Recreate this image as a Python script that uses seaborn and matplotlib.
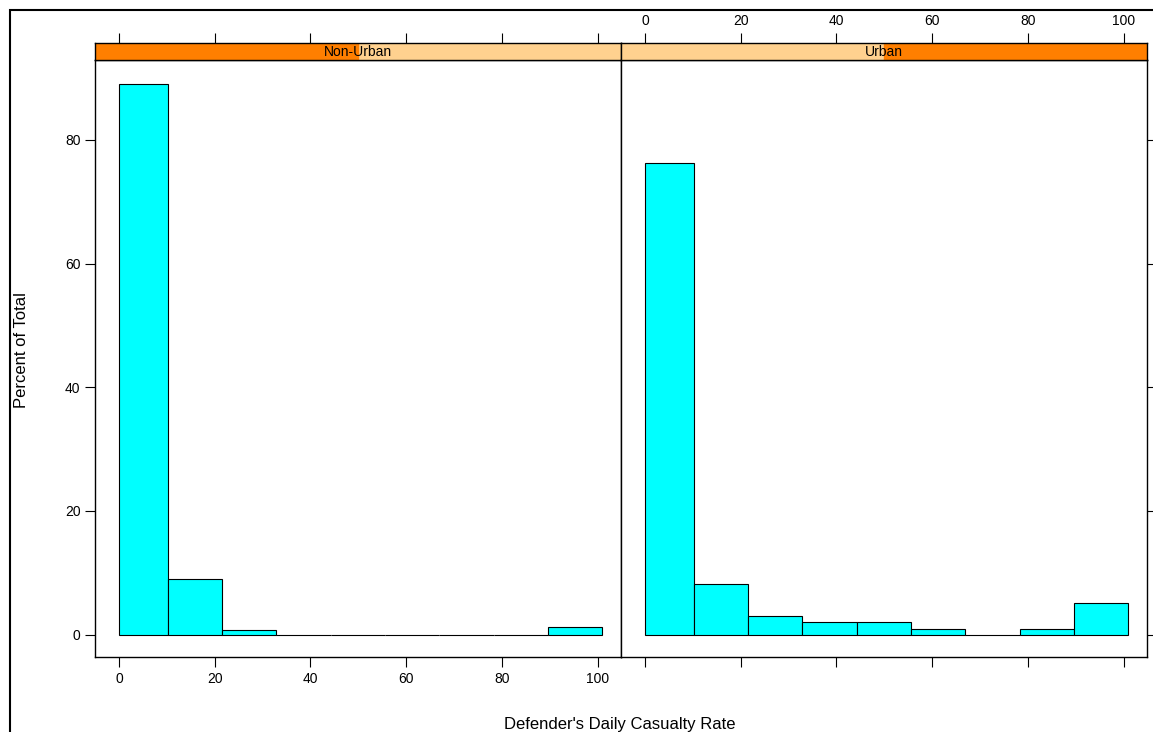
import numpy as np
import pandas as pd
import seaborn as sb
import matplotlib.pyplot as plt
from matplotlib.patches import Rectangle

sb.set_style("white")
plt.rcParams['font.family'] = ['Liberation Sans', 'DejaVu Sans']
plt.rcParams['text.color'] = 'black'
plt.rcParams['xtick.color'] = 'black'
plt.rcParams['ytick.color'] = 'black'

panels = ["Non-Urban", "Urban"]
binEdges = [0, 10.2, 21.55, 32.9, 44.25, 55.6, 66.95, 78.3, 89.65, 101.0]
nonUrban = [89.0, 9.0, 0.7, 0, 0, 0, 0, 0, 1.3]
urban = [76.3, 8.2, 3.1, 2.1, 2.1, 1.0, 0, 1.0, 5.2]
xTicks = [0, 20, 40, 60, 80, 100]
yTicks = [0, 20, 40, 60, 80]

centers = [(a + b) / 2 for a, b in zip(binEdges[:-1], binEdges[1:])]
df = pd.concat([
    pd.DataFrame({'rate': centers, 'pct': nonUrban, 'area': panels[0]}),
    pd.DataFrame({'rate': centers, 'pct': urban, 'area': panels[1]}),
])

W, H = 1153, 732
fig = plt.figure(figsize=(W / 100, H / 100), dpi=100)
fig.patches.append(Rectangle((10 / W, -0.1), 1.2, (H - 10) / H + 0.1, transform=fig.transFigure,
                             fill=False, lw=1.5, ec='black'))
orange, light = '#FF7F00', '#FFD18F'
pw = (621 - 95) / W
xlim = (-5, 104.9)
for i, name in enumerate(panels):
    left = (95 + i * 526) / W
    ax = fig.add_axes([left, (H - 657) / H, pw, (657 - 60) / H])
    sb.histplot(data=df[df.area == name], x='rate', weights='pct', bins=binEdges,
                color='#00FFFF', edgecolor='black', alpha=1, lw=0.8, ax=ax)
    ax.set_xlim(*xlim)
    ax.set_ylim(-3.6, 92.9)
    ax.set_xticks(xTicks)
    ax.set_yticks(yTicks)
    ax.set_xlabel('')
    ax.set_ylabel('')
    for s in ax.spines.values():
        s.set_color('black')
        s.set_linewidth(1)
    ax.tick_params(axis='x', top=False, bottom=True, direction='out', length=7, labelsize=10,
                   labelbottom=(i == 0), labeltop=False)
    ax.tick_params(axis='y', left=(i == 0), right=(i == 1), direction='out', length=7,
                   labelsize=10, labelleft=(i == 0), labelright=False)
    # strip with top ticks
    sax = fig.add_axes([left, (H - 60) / H, pw, 17 / H])
    sax.set_xlim(*xlim)
    sax.set_ylim(0, 1)
    sax.add_patch(Rectangle((xlim[0], 0), xlim[1] - xlim[0], 1, color=light))
    sax.add_patch(Rectangle((xlim[0] + i * (xlim[1] - xlim[0]) / 2, 0), (xlim[1] - xlim[0]) / 2, 1,
                            color=orange))
    for s in sax.spines.values():
        s.set_color('black')
        s.set_linewidth(1)
    sax.set_yticks([])
    sax.set_xticks(xTicks)
    sax.tick_params(axis='x', top=True, bottom=False, labelbottom=False, labeltop=(i == 1),
                    direction='out', length=7, labelsize=10)
    sax.text(0.5, 0.45, name, transform=sax.transAxes, ha='center', va='center', fontsize=10)

fig.text(620 / W, 1 - 725 / H, "Defender's Daily Casualty Rate", ha='center', va='center', fontsize=12)
fig.text(22 / W, 1 - 350 / H, "Percent of Total", rotation=90, ha='center', va='center', fontsize=12)
fig.savefig('out.png', dpi=100)
